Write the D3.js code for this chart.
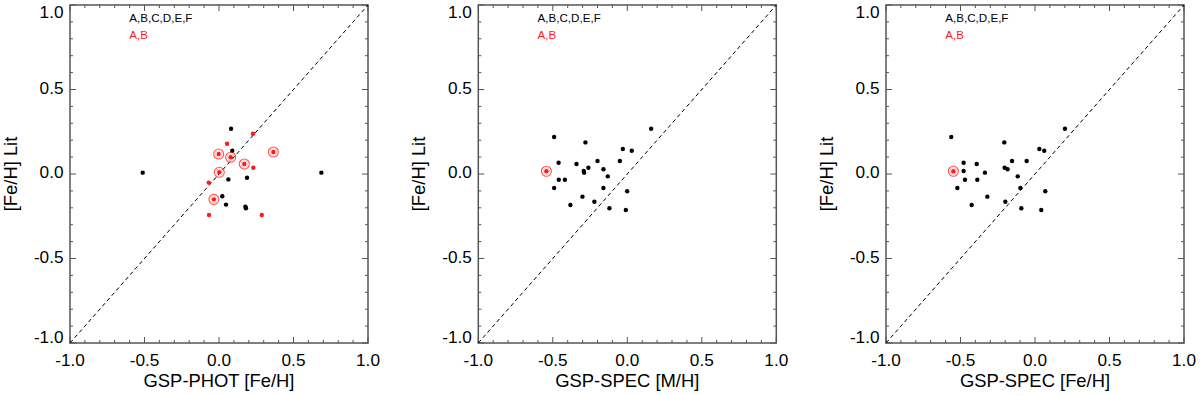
<!DOCTYPE html>
<html><head><meta charset="utf-8">
<script src="https://cdn.jsdelivr.net/npm/d3@7"></script>
<style>body{margin:0;background:#fff;} svg{display:block;} text{font-family:"Liberation Sans",Arial,Helvetica,sans-serif;}</style>
</head><body>
<svg id="c" width="1200" height="395"></svg>
<script>
// ---- data ----
const xTitles = ["GSP-PHOT [Fe/H]", "GSP-SPEC [M/H]", "GSP-SPEC [Fe/H]"];
const yTitle = "[Fe/H] Lit";
const legendAll = "A,B,C,D,E,F";
const legendAB = "A,B";
const tickValues = [-1.0, -0.5, 0.0, 0.5, 1.0];
const tickLabels = ["-1.0", "-0.5", "0.0", "0.5", "1.0"];

// panel 1: GSP-PHOT
const p1BlackX = [-0.512, 0.081, 0.089, 0.063, 0.188, 0.022, 0.047, 0.177, 0.181, 0.687];
const p1BlackY = [0.008, 0.268, 0.138, -0.032, -0.022, -0.132, -0.181, -0.193, -0.203, 0.008];
const p1RedX = [0.228, 0.054, 0.230, -0.069, -0.067, 0.287];
const p1RedY = [0.238, 0.179, 0.037, -0.051, -0.243, -0.243];
const p1CircX = [-0.002, 0.078, 0.365, 0.170, 0.002, -0.034];
const p1CircY = [0.118, 0.099, 0.130, 0.059, 0.010, -0.150];

// panel 2: GSP-SPEC [M/H]
const p2BlackX = [-0.491, -0.281, 0.160, -0.030, 0.030, -0.461, -0.341, -0.200, -0.050, -0.261, -0.292, -0.290,
                  -0.160, -0.131, -0.460, -0.419, -0.491, -0.160, -0.001, -0.301, -0.221, -0.382, -0.120, -0.010];
const p2BlackY = [0.219, 0.187, 0.268, 0.148, 0.138, 0.067, 0.059, 0.077, 0.077, 0.037, 0.018, 0.008,
                  0.028, -0.014, -0.034, -0.034, -0.083, -0.083, -0.102, -0.134, -0.164, -0.183, -0.203, -0.213];
const p2CircX = [-0.543];
const p2CircY = [0.016];

// panel 3: GSP-SPEC [Fe/H]
const p3BlackX = [-0.562, -0.206, 0.201, 0.029, 0.062, -0.479, -0.391, -0.154, -0.056, -0.204, -0.184, -0.336,
                  -0.479, -0.116, -0.470, -0.387, -0.521, -0.098, 0.069, -0.320, -0.199, -0.425, -0.092, 0.042];
const p3BlackY = [0.219, 0.187, 0.268, 0.148, 0.138, 0.067, 0.059, 0.077, 0.077, 0.037, 0.028, 0.008,
                  0.018, -0.014, -0.034, -0.034, -0.083, -0.083, -0.102, -0.134, -0.164, -0.183, -0.203, -0.213];
const p3CircX = [-0.548];
const p3CircY = [0.016];

const panels = [
  {left: 70,    bx: p1BlackX, by: p1BlackY, rx: p1RedX, ry: p1RedY, cx: p1CircX, cy: p1CircY},
  {left: 478.3, bx: p2BlackX, by: p2BlackY, rx: [], ry: [], cx: p2CircX, cy: p2CircY},
  {left: 886,   bx: p3BlackX, by: p3BlackY, rx: [], ry: [], cx: p3CircX, cy: p3CircY}
];

// ---- drawing ----
const svg = d3.select("#c");
const W = 298, plotTop = 5, plotBottom = 343;
const frameCol = "#555";
const RED = "#ff1a1a";
const tickFs = 17.2, titleFs = 18.4;

panels.forEach((p, i) => {
  const x = d3.scaleLinear().domain([-1, 1]).range([p.left, p.left + W]);
  const y = d3.scaleLinear().domain([-1, 1]).range([plotBottom, plotTop]);
  const g = svg.append("g");

  const minor = d3.range(-10, 11).map(v => v / 10);
  const isMajor = v => Math.abs(v * 2 - Math.round(v * 2)) < 1e-6;

  // ticks (inward, all sides)
  const tg = g.append("g").attr("stroke", frameCol).attr("stroke-width", 1);
  minor.forEach(v => {
    const L = isMajor(v) ? 6 : 3;
    tg.append("line").attr("x1", x(v)).attr("x2", x(v)).attr("y1", plotBottom).attr("y2", plotBottom - L);
    tg.append("line").attr("x1", x(v)).attr("x2", x(v)).attr("y1", plotTop).attr("y2", plotTop + L);
    tg.append("line").attr("y1", y(v)).attr("y2", y(v)).attr("x1", p.left).attr("x2", p.left + L);
    tg.append("line").attr("y1", y(v)).attr("y2", y(v)).attr("x1", p.left + W).attr("x2", p.left + W - L);
  });

  // frame
  g.append("rect").attr("x", p.left).attr("y", plotTop).attr("width", W).attr("height", plotBottom - plotTop)
    .attr("fill", "none").attr("stroke", frameCol).attr("stroke-width", 1.5);

  // tick labels
  tickValues.forEach((v, k) => {
    g.append("text").attr("x", x(v)).attr("y", 365.8).attr("text-anchor", "middle")
      .attr("font-size", tickFs).attr("fill", "#000").text(tickLabels[k]);
    const cyv = Math.min(Math.max(y(v) - 1.5, plotTop + 7), plotBottom - 5.5);
    g.append("text").attr("x", p.left - 6.5).attr("y", cyv + 5.9).attr("text-anchor", "end")
      .attr("font-size", tickFs).attr("fill", "#000").text(tickLabels[k]);
  });

  // axis titles
  g.append("text").attr("x", p.left + W / 2).attr("y", 386.5).attr("text-anchor", "middle")
    .attr("font-size", titleFs).attr("fill", "#000").text(xTitles[i]);
  g.append("text").attr("transform", `translate(${p.left - 53.5},${(plotTop + plotBottom) / 2}) rotate(-90)`)
    .attr("text-anchor", "middle").attr("font-size", titleFs).attr("fill", "#000").text(yTitle);

  // diagonal
  g.append("line").attr("x1", x(-1)).attr("y1", y(-1)).attr("x2", x(1)).attr("y2", y(1))
    .attr("stroke", "#000").attr("stroke-width", 1).attr("stroke-dasharray", "4,3");

  // legend
  g.append("text").attr("x", p.left + 59.3).attr("y", 21.7).attr("font-size", 11.6).attr("fill", "#000").text(legendAll);
  g.append("text").attr("x", p.left + 59.3).attr("y", 39).attr("font-size", 11.6).attr("fill", RED).text(legendAB);

  // black points
  g.append("g").selectAll("circle").data(p.bx.map((v, k) => [v, p.by[k]])).join("circle")
    .attr("cx", d => x(d[0])).attr("cy", d => y(d[1])).attr("r", 2.2).attr("fill", "#000");
  // red points
  g.append("g").selectAll("circle").data(p.rx.map((v, k) => [v, p.ry[k]])).join("circle")
    .attr("cx", d => x(d[0])).attr("cy", d => y(d[1])).attr("r", 2.2).attr("fill", RED);
  // circled red points
  const cg = g.append("g").selectAll("g").data(p.cx.map((v, k) => [v, p.cy[k]])).join("g")
    .attr("transform", d => `translate(${x(d[0])},${y(d[1])})`);
  cg.append("circle").attr("r", 5).attr("fill", "none").attr("stroke", RED).attr("stroke-width", 1.1).attr("opacity", 0.75);
  cg.append("circle").attr("r", 3.4).attr("fill", "none").attr("stroke", RED).attr("stroke-width", 0.7).attr("opacity", 0.35);
  cg.append("circle").attr("r", 2.2).attr("fill", RED);
});
</script>
</body></html>
